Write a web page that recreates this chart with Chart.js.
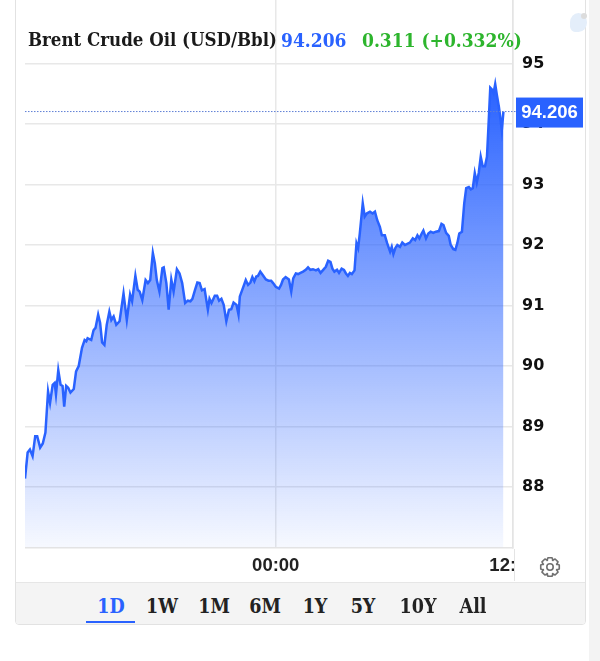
<!DOCTYPE html>
<html>
<head>
<meta charset="utf-8">
<script src="https://cdn.jsdelivr.net/npm/chart.js@4.4.0/dist/chart.umd.min.js"></script>
<style>
  html, body { margin: 0; padding: 0; background: #fff; }
  body { width: 600px; height: 661px; position: relative; overflow: hidden; }
  .strip { position: absolute; left: 589px; top: 0; width: 11px; height: 661px; background: #f3f3f3; }
  .card { position: absolute; left: 15px; top: -10px; width: 571px; height: 635px;
          border: 1px solid #e2e2e2; border-radius: 4px; box-sizing: border-box; background: #fff; }
  .bar { position: absolute; left: 16px; top: 582px; width: 569px; height: 42px;
         background: #f4f4f4; border-top: 1px solid #e6e6e6; box-sizing: border-box;
         border-radius: 0 0 3px 3px; }
  #wrap { position: absolute; left: 25px; top: 0; width: 561px; height: 582px; }
  .title { position: absolute; top: 28px; font: bold 19px "DejaVu Serif Condensed", "DejaVu Serif", serif;
           font-stretch: condensed; white-space: nowrap; line-height: 24px; }
  .btn { position: absolute; top: 595px; transform: translateX(-50%); font: bold 19.5px "DejaVu Serif Condensed", "DejaVu Serif", serif;
         font-stretch: condensed; color: #222; line-height: 24px; }
  .btn.on { color: #2962ff; }
  .underline { position: absolute; left: 86px; top: 621px; width: 49px; height: 2px; background: #2962ff; }
  .mask { position: absolute; left: 514px; top: 549px; width: 71px; height: 32px; background: #fff;
          border-left: 1.5px solid #e4e4e4; box-sizing: border-box; }
  .mask svg { position: absolute; left: 24px; top: 7px; }
  .bubble { position: absolute; left: 570px; top: 13px; width: 17px; height: 19px; background: #e4eefa;
            border-radius: 50% 50% 50% 30%; }
  .dot { position: absolute; left: 581px; top: 13px; width: 6px; height: 6px; background: #dcdcdc; border-radius: 50%; }
</style>
</head>
<body>
<div class="strip"></div>
<div class="card"></div>
<div class="bubble"></div><div class="dot"></div>
<div id="wrap"><canvas id="chart" width="561" height="582"></canvas></div>
<div class="title" style="left:28px;color:#1a1a1a;font-size:18.5px">Brent Crude Oil (USD/Bbl)</div>
<div class="title" id="last" style="left:281px;color:#2962ff"></div>
<div class="title" id="chg" style="left:362px;color:#2db52d"></div>
<div class="mask" id="mask"></div>
<div class="bar"></div>
<div id="btns"></div>
<div class="underline"></div>
<script>
// minutes relative to 00:00
const minutes = [
  -761, -753, -746, -738, -730, -724, -715, -707, -699, -691, -685, -677, -671, -667, -660, -653, -647, -642, -636, -630,
  -623, -613, -606, -598, -588, -580, -575, -571, -560, -553, -547, -539, -533, -527, -520, -513, -505, -499, -492, -484,
  -474, -462, -452, -442, -436, -426, -419, -413, -405, -395, -388, -381, -373, -367, -361, -353, -344, -340, -332, -325,
  -317, -310, -300, -292, -284, -275, -267, -259, -253, -245, -238, -231, -224, -216, -206, -201, -195, -185, -178, -172,
  -165, -158, -150, -142, -135, -128, -119, -113,
  -109, -99, -91, -84, -77, -71, -65, -59, -54, -47, -39, -30, -22, -14, -8, 0, 10, 16, 22, 30,
  40, 47, 53, 61, 68, 75, 83, 91, 98, 105, 113, 122, 129, 136, 144, 152, 159, 166, 172, 178,
  186, 192, 200, 207, 213, 219, 225, 231, 239, 245, 250, 255, 264, 270, 276,
  286, 294, 301, 308, 316, 322, 331, 338, 347, 352, 357, 363, 369, 377, 384, 392, 399, 407, 416, 423,
  430, 436, 443, 448, 456, 463, 470, 478, 486, 495, 503, 509, 517, 525, 531, 539, 545, 551, 557, 565,
  572, 578, 586, 592, 598, 604, 610, 616, 622, 628, 635, 641, 645, 651, 656, 661, 666, 671, 677, 681,
  686, 691
];
const prices = [
  88.14, 88.57, 88.62, 88.51, 88.84, 88.84, 88.65, 88.72, 88.90, 89.58, 89.39, 89.69, 89.72, 89.53, 89.93, 89.69, 89.67, 89.33, 89.67, 89.64,
  89.56, 89.62, 89.91, 90.00, 90.30, 90.43, 90.41, 90.46, 90.43, 90.59, 90.63, 90.85, 90.71, 90.39, 90.35, 90.68, 90.90, 90.76, 90.82, 90.68,
  90.74, 91.20, 90.76, 91.18, 91.07, 91.49, 91.26, 91.23, 91.09, 91.42, 91.37, 91.42, 91.87, 91.70, 91.42, 91.23, 91.62, 91.63, 91.37, 90.93,
  91.43, 91.23, 91.60, 91.53, 91.37, 91.04, 91.08, 91.07, 91.11, 91.26, 91.38, 91.37, 91.25, 91.27, 90.93, 91.11, 91.04, 91.16, 91.16, 91.08,
  91.11, 91.01, 90.74, 90.93, 90.94, 91.05, 91.01, 90.85,
  91.15, 91.30, 91.42, 91.34, 91.38, 91.47, 91.40, 91.48, 91.49, 91.56, 91.50, 91.43, 91.41, 91.41, 91.37, 91.31, 91.28, 91.34, 91.43, 91.47,
  91.43, 91.23, 91.45, 91.53, 91.52, 91.54, 91.56, 91.59, 91.63, 91.59, 91.60, 91.58, 91.60, 91.54, 91.59, 91.64, 91.74, 91.72, 91.61, 91.56,
  91.59, 91.54, 91.61, 91.59, 91.53, 91.49, 91.54, 91.52, 91.58, 92.03, 91.95, 92.19, 92.69, 92.47, 92.52,
  92.55, 92.52, 92.55, 92.41, 92.30, 92.16, 92.16, 92.03, 91.89, 91.97, 91.85, 91.95, 92.00, 91.97, 92.04, 92.00, 92.02, 92.04, 92.11, 92.08,
  92.16, 92.11, 92.19, 92.24, 92.11, 92.19, 92.22, 92.20, 92.22, 92.23, 92.35, 92.33, 92.20, 92.15, 92.00, 91.93, 91.92, 92.03, 92.19, 92.22,
  92.69, 92.94, 92.96, 92.92, 92.94, 93.19, 93.03, 93.19, 93.46, 93.30, 93.30, 93.46, 93.90, 94.60, 94.57, 94.51, 94.66, 94.48, 94.29, 94.13,
  93.90, 94.206
];
const yTicks = [88, 89, 90, 91, 92, 93, 94, 95];
const xTickValues = [0, 720];
const xTickLabels = ['00:00', '12:00'];
const lastPrice = 94.206;
const changeText = '0.311 (+0.332%)';
const ranges = ['1D', '1W', '1M', '6M', '1Y', '5Y', '10Y', 'All'];
const rangeX = [111, 162, 214, 265, 315, 363, 418, 473];

document.getElementById('last').textContent = lastPrice.toFixed(3);
document.getElementById('chg').textContent = changeText;

const btns = document.getElementById('btns');
ranges.forEach((r, i) => {
  const d = document.createElement('div');
  d.className = 'btn' + (i === 0 ? ' on' : '');
  d.style.left = rangeX[i] + 'px';
  d.textContent = r;
  btns.appendChild(d);
});

// gear icon
const gear = () => {
  const cx = 11, cy = 11, ro = 9.5, ri = 7.2, n = 8;
  let pts = [];
  for (let i = 0; i < n; i++) {
    const a = i * 2 * Math.PI / n;
    const w = 0.22, v = 0.42;
    pts.push([a - v, ri], [a - w, ro], [a + w, ro], [a + v, ri]);
  }
  const d = pts.map((p, i) => (i ? 'L' : 'M') + (cx + p[1] * Math.cos(p[0])).toFixed(2) + ' ' + (cy + p[1] * Math.sin(p[0])).toFixed(2)).join(' ') + ' Z';
  return '<svg width="22" height="22" viewBox="0 0 22 22"><path d="' + d + '" fill="none" stroke="#707070" stroke-width="1.6" stroke-linejoin="round"/>' +
    '<circle cx="11" cy="11" r="3.2" fill="none" stroke="#707070" stroke-width="1.6"/></svg>';
};
document.getElementById('mask').innerHTML = gear();

// dotted last-price line + badge on the right axis
const lastLine = {
  id: 'lastLine',
  afterDraw(chart) {
    const { ctx, chartArea, scales } = chart;
    const y = scales.y.getPixelForValue(lastPrice);
    ctx.save();
    ctx.strokeStyle = '#5f7fd6';
    ctx.lineWidth = 1;
    ctx.setLineDash([1.5, 1.5]);
    ctx.beginPath();
    ctx.moveTo(chartArea.left, y);
    ctx.lineTo(chartArea.right + 3, y);
    ctx.stroke();
    ctx.setLineDash([]);
    ctx.fillStyle = '#2962ff';
    ctx.fillRect(chartArea.right + 3, y - 14, 67, 30);
    ctx.fillStyle = '#fff';
    ctx.font = 'bold 18.5px "Liberation Sans", Arial, sans-serif';
    ctx.textAlign = 'center';
    ctx.textBaseline = 'middle';
    ctx.fillText(lastPrice.toFixed(3), chartArea.right + 36.5, y + 1.5);
    ctx.restore();
  }
};

new Chart(document.getElementById('chart'), {
  type: 'line',
  data: {
    datasets: [{
      data: minutes.map((m, i) => ({ x: m, y: prices[i] })),
      borderColor: '#2962ff',
      borderWidth: 2.5,
      pointRadius: 0,
      tension: 0,
      fill: 'start',
      backgroundColor: (c) => {
        const area = c.chart.chartArea;
        if (!area) return 'rgba(41,98,255,0.5)';
        const g = c.chart.ctx.createLinearGradient(0, area.top, 0, area.bottom);
        g.addColorStop(0, 'rgba(41,98,255,1)');
        g.addColorStop(0.18, 'rgba(41,98,255,0.97)');
        g.addColorStop(1, 'rgba(41,98,255,0.04)');
        return g;
      }
    }]
  },
  options: {
    responsive: false,
    animation: false,
    layout: { padding: 0, autoPadding: false },
    plugins: { legend: { display: false }, tooltip: { enabled: false } },
    scales: {
      x: {
        type: 'linear',
        min: minutes[0],
        max: 720,
        afterBuildTicks: (s) => { s.ticks = xTickValues.map(v => ({ value: v })); },
        afterFit: (s) => { s.height = 34.5; s.paddingLeft = 0; s.paddingRight = 0; },
        ticks: {
          autoSkip: false,
          maxRotation: 0,
          padding: 7,
          color: '#222',
          font: { family: '"Liberation Sans", Arial, sans-serif', size: 18.5, weight: 'bold' },
          callback: (v) => xTickLabels[xTickValues.indexOf(v)]
        },
        grid: { color: '#e8e8e8', lineWidth: 1.5, drawTicks: false },
        border: { display: true, color: '#e4e4e4', width: 1.5 }
      },
      y: {
        position: 'right',
        min: 87,
        max: 96.05,
        afterBuildTicks: (s) => { s.ticks = yTicks.map(v => ({ value: v })); },
        afterFit: (s) => { s.width = 73; s.paddingTop = 0; s.paddingBottom = 0; },
        ticks: {
          padding: 9,
          color: '#111',
          font: { family: '"DejaVu Sans", sans-serif', size: 16, weight: 'bold' },
          callback: (v) => String(v)
        },
        grid: { color: '#e8e8e8', lineWidth: 1.5, drawTicks: false },
        border: { display: true, color: '#e4e4e4', width: 1.5 }
      }
    }
  },
  plugins: [lastLine]
});
</script>
</body>
</html>
